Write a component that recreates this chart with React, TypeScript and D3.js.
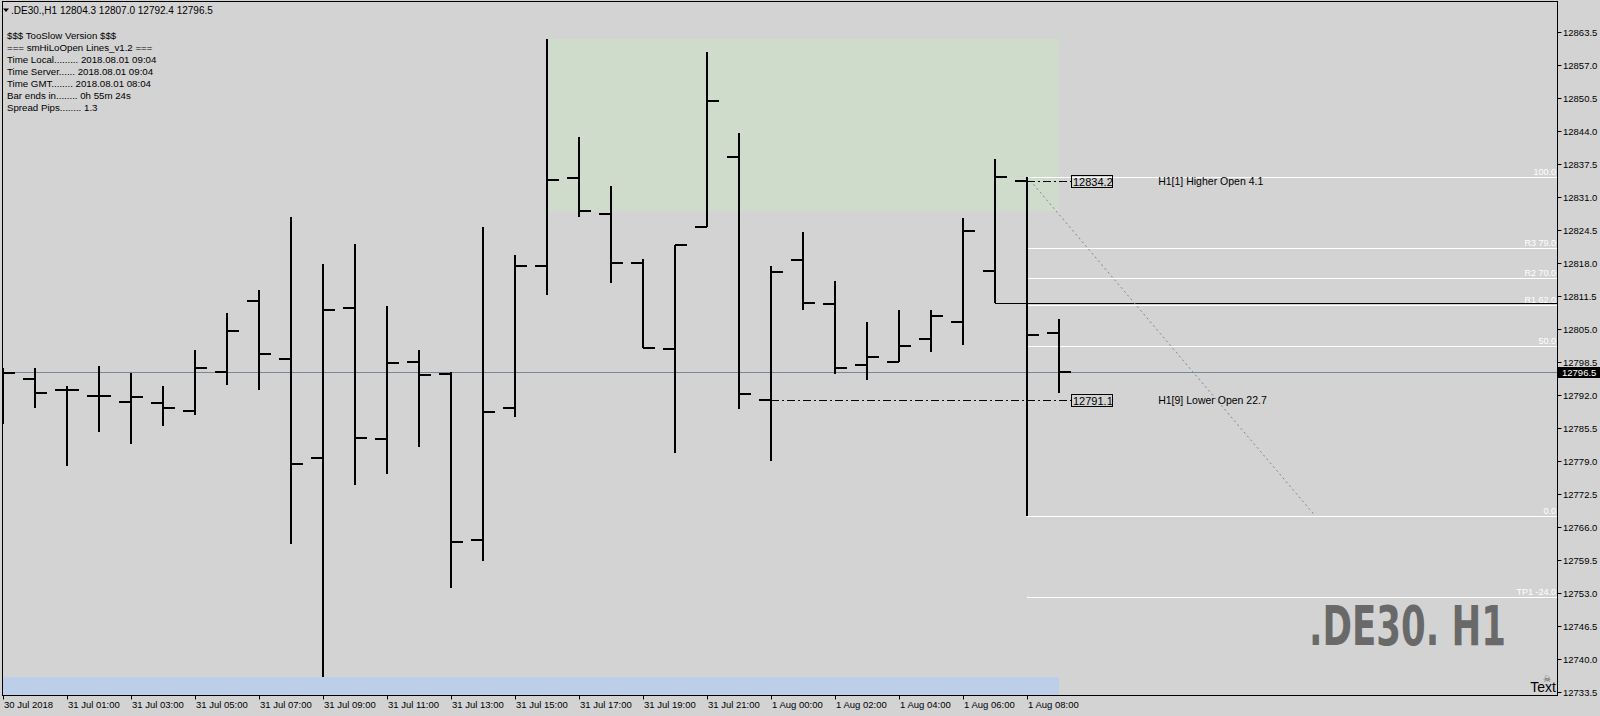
import React from "react";
import * as d3 from "d3";

const barTimes = [
  "30 Jul 23:00", "31 Jul 00:00", "31 Jul 01:00", "31 Jul 02:00", "31 Jul 03:00", "31 Jul 04:00",
  "31 Jul 05:00", "31 Jul 06:00", "31 Jul 07:00", "31 Jul 08:00", "31 Jul 09:00", "31 Jul 10:00",
  "31 Jul 11:00", "31 Jul 12:00", "31 Jul 13:00", "31 Jul 14:00", "31 Jul 15:00", "31 Jul 16:00",
  "31 Jul 17:00", "31 Jul 18:00", "31 Jul 19:00", "31 Jul 20:00", "31 Jul 21:00", "31 Jul 22:00",
  "1 Aug 00:00", "1 Aug 01:00", "1 Aug 02:00", "1 Aug 03:00", "1 Aug 04:00", "1 Aug 05:00",
  "1 Aug 06:00", "1 Aug 07:00", "1 Aug 08:00", "1 Aug 09:00",
];
const opens = [
  12796.0, 12795.2, 12793.0, 12791.8, 12790.6, 12790.4, 12788.9, 12796.6, 12810.5, 12799.1,
  12779.6, 12809.1, 12783.3, 12798.5, 12796.1, 12763.5, 12789.5, 12817.4, 12834.8, 12827.7,
  12818.0, 12801.1, 12825.1, 12838.9, 12791.1, 12818.6, 12810.0, 12797.9, 12798.6, 12803.1,
  12806.4, 12816.5, 12834.2, 12804.3,
];
const highs = [
  12797.4, 12797.4, 12793.9, 12797.8, 12796.3, 12793.9, 12800.8, 12808.2, 12812.7, 12827.0,
  12817.8, 12821.7, 12809.6, 12800.8, 12796.5, 12825.2, 12819.5, 12862.2, 12842.9, 12833.2,
  12818.9, 12821.6, 12859.6, 12843.6, 12817.4, 12824.1, 12814.5, 12806.4, 12808.8, 12808.8,
  12826.8, 12838.5, 12835.0, 12807.0,
];
const lows = [
  12786.3, 12789.5, 12778.1, 12784.8, 12782.4, 12785.9, 12788.1, 12794.0, 12793.0, 12762.6,
  12736.5, 12774.3, 12776.5, 12781.8, 12754.0, 12759.4, 12787.7, 12811.8, 12827.1, 12814.1,
  12801.2, 12780.6, 12825.1, 12789.2, 12779.0, 12808.8, 12796.2, 12795.0, 12798.5, 12800.4,
  12801.9, 12810.2, 12768.3, 12792.4,
];
const closes = [
  12796.3, 12792.4, 12793.0, 12791.8, 12791.6, 12789.5, 12797.3, 12804.6, 12800.1, 12778.5,
  12808.8, 12783.5, 12798.3, 12796.0, 12763.0, 12788.6, 12817.4, 12834.4, 12828.2, 12818.0,
  12801.3, 12821.6, 12849.9, 12792.2, 12816.2, 12810.2, 12797.3, 12799.5, 12801.7, 12807.6,
  12824.4, 12835.0, 12803.9, 12796.5,
];

const xTickIndex = [0, 2, 4, 6, 8, 10, 12, 14, 16, 18, 20, 22, 24, 26, 28, 30, 32];
const xTickLabels = [
  "30 Jul 2018", "31 Jul 01:00", "31 Jul 03:00", "31 Jul 05:00", "31 Jul 07:00", "31 Jul 09:00",
  "31 Jul 11:00", "31 Jul 13:00", "31 Jul 15:00", "31 Jul 17:00", "31 Jul 19:00", "31 Jul 21:00",
  "1 Aug 00:00", "1 Aug 02:00", "1 Aug 04:00", "1 Aug 06:00", "1 Aug 08:00",
];
const yTickLabels = [
  "12863.5", "12857.0", "12850.5", "12844.0", "12837.5", "12831.0", "12824.5", "12818.0",
  "12811.5", "12805.0", "12798.5", "12792.0", "12785.5", "12779.0", "12772.5", "12766.0",
  "12759.5", "12753.0", "12746.5", "12740.0", "12733.5",
];

const fiboRatios = [1.0, 0.79, 0.7, 0.62, 0.5, 0.0, -0.24];
const fiboLabels = ["100.0", "R3 79.0", "R2 70.0", "R1 62.0", "50.0", "0.0", "TP1 -24.0"];

const infoLines = [
  "$$$ TooSlow Version $$$",
  "=== smHiLoOpen Lines_v1.2 ===",
  "Time Local......... 2018.08.01 09:04",
  "Time Server...... 2018.08.01 09:04",
  "Time GMT........ 2018.08.01 08:04",
  "Bar ends in........ 0h 55m 24s",
  "Spread Pips........ 1.3",
];
const headerText = ".DE30.,H1  12804.3 12807.0 12792.4 12796.5";

const greenZone = { from: 17, to: 33, top: 12862.2, bottom: 12828.2 };
const blueZone = { from: -1, to: 33, top: 12736.5, bottom: 12728.0 };

const FONT = "'Liberation Sans', Arial, sans-serif";

export default function App() {
  const W = 1600;
  const H = 716;
  const P = { left: 2.5, top: 1.5, right: 1557.5, bottom: 695.5 };
  const x = d3.scaleLinear().domain([0, 33]).range([3, 1059]);
  const y = d3.scaleLinear().domain([12733.5, 12863.5]).range([692.3, 32]);
  const ry = (v: number) => Math.round(y(v));
  const last = closes.length - 1;
  const fHigh = highs[32];
  const fLow = lows[32];
  const fiboVals = fiboRatios.map((r) => fLow + (fHigh - fLow) * r);
  const boxLeft = x(33.375);
  const textLeft = x(36.1);
  const tick = 12;

  const lineGen = d3.line<[number, number]>().x((d) => d[0]).y((d) => d[1]);

  return (
    <svg
      width={W}
      height={H}
      style={{ position: "fixed", left: 0, top: 0, background: "#d3d3d3" }}
      fontFamily={FONT}
    >
      <rect x={0} y={0} width={W} height={H} fill="#d3d3d3" />
      <defs>
        <clipPath id="plotclip">
          <rect x={P.left} y={P.top} width={P.right - P.left} height={P.bottom - P.top} />
        </clipPath>
      </defs>
      <g clipPath="url(#plotclip)">
        <rect
          x={x(blueZone.from)}
          y={y(blueZone.top)}
          width={x(blueZone.to) - x(blueZone.from)}
          height={y(blueZone.bottom) - y(blueZone.top)}
          fill="#bdcfe8"
        />
        <rect
          x={x(greenZone.from)}
          y={y(greenZone.top)}
          width={x(greenZone.to) - x(greenZone.from)}
          height={y(greenZone.bottom) - y(greenZone.top)}
          fill="#cfdccb"
        />
        {fiboVals.map((v, i) => (
          <g key={"f" + i}>
            <line x1={x(32)} x2={P.right} y1={ry(v) + 0.5} y2={ry(v) + 0.5} stroke="#ffffff" strokeWidth={1} />
            <text x={P.right - 1.5} y={ry(v) - 2} fontSize={9} fill="#ffffff" textAnchor="end">
              {fiboLabels[i]}
            </text>
          </g>
        ))}
        <line x1={x(31)} x2={P.right} y1={ry(lows[31]) + 0.5} y2={ry(lows[31]) + 0.5} stroke="#000" strokeWidth={1} />
        <line x1={P.left} x2={P.right} y1={ry(closes[last]) + 0.5} y2={ry(closes[last]) + 0.5} stroke="#778899" strokeWidth={1} />
        <path
          d={lineGen([
            [x(32), y(fHigh)],
            [x(41), y(fLow)],
          ]) || ""}
          stroke="#778899"
          strokeWidth={1}
          strokeDasharray="2,3"
          fill="none"
        />
        <line x1={x(32)} x2={boxLeft} y1={ry(opens[32]) + 0.5} y2={ry(opens[32]) + 0.5} stroke="#000" strokeWidth={1} strokeDasharray="8,3,2,3" />
        <line x1={x(24)} x2={boxLeft} y1={ry(opens[24]) + 0.5} y2={ry(opens[24]) + 0.5} stroke="#000" strokeWidth={1} strokeDasharray="8,3,2,3" />
        {opens.map((o, i) => (
          <g key={"b" + i} stroke="#000" strokeWidth={2}>
            <line x1={x(i)} x2={x(i)} y1={ry(highs[i])} y2={ry(lows[i])} />
            <line x1={x(i) - tick} x2={x(i)} y1={ry(o)} y2={ry(o)} />
            <line x1={x(i)} x2={x(i) + tick} y1={ry(closes[i])} y2={ry(closes[i])} />
          </g>
        ))}
        {[opens[32], opens[24]].map((v, i) => (
          <g key={"pb" + i}>
            <rect x={Math.round(boxLeft) + 0.5} y={ry(v) - 5.5} width={41} height={12} fill="none" stroke="#000" strokeWidth={1} />
            <text x={boxLeft + 2} y={ry(v) + 4.5} fontSize={11} fill="#000">
              {v.toFixed(1)}
            </text>
          </g>
        ))}
        <text x={textLeft} y={ry(opens[32]) + 4} fontSize={10.5} fill="#000">
          H1[1] Higher Open 4.1
        </text>
        <text x={textLeft} y={ry(opens[24]) + 4} fontSize={10.5} fill="#000">
          H1[9] Lower Open 22.7
        </text>
        <text
          x={1309}
          y={645}
          fontSize={56}
          fontWeight="bold"
          fill="#696969"
          fontFamily="'DejaVu Sans', sans-serif"
          textLength={197}
          lengthAdjust="spacingAndGlyphs"
        >
          .DE30. H1
        </text>
        <text x={1547} y={682} fontSize={9} fill="#555" textAnchor="middle" fontFamily="'DejaVu Sans', sans-serif">
          ☠
        </text>
        <text x={1556} y={692} fontSize={14} fill="#000" textAnchor="end">
          Text
        </text>
      </g>

      <path d="M3,8.5 L9,8.5 L6,12 Z" fill="#000" />
      <text x={11} y={13.5} fontSize={10} fill="#000">
        {headerText}
      </text>
      {infoLines.map((t, i) => (
        <text key={"il" + i} x={7} y={38.5 + i * 12.1} fontSize={9.7} fill="#000">
          {t}
        </text>
      ))}

      <rect x={P.left} y={P.top} width={P.right - P.left} height={P.bottom - P.top} fill="none" stroke="#000" strokeWidth={1} />

      {yTickLabels.map((t, i) => {
        const yy = ry(+t) + 0.5;
        return (
          <g key={"yt" + i}>
            <line x1={P.right} x2={P.right + 4} y1={yy} y2={yy} stroke="#000" strokeWidth={1} />
            <text x={1563} y={yy + 3.5} fontSize={9.5} fill="#000">
              {t}
            </text>
          </g>
        );
      })}
      <rect x={1558} y={ry(closes[last]) - 5} width={42} height={11} fill="#000" />
      <text x={1562} y={ry(closes[last]) + 4} fontSize={9.5} fill="#fff">
        {closes[last].toFixed(1)}
      </text>

      {xTickIndex.map((idx, i) => (
        <g key={"xt" + i}>
          <line x1={x(idx) + 0.5} x2={x(idx) + 0.5} y1={P.bottom} y2={P.bottom + 4} stroke="#000" strokeWidth={1} />
          <text x={x(idx) + 1} y={707.5} fontSize={9.5} fill="#000">
            {xTickLabels[i]}
          </text>
        </g>
      ))}
    </svg>
  );
}
